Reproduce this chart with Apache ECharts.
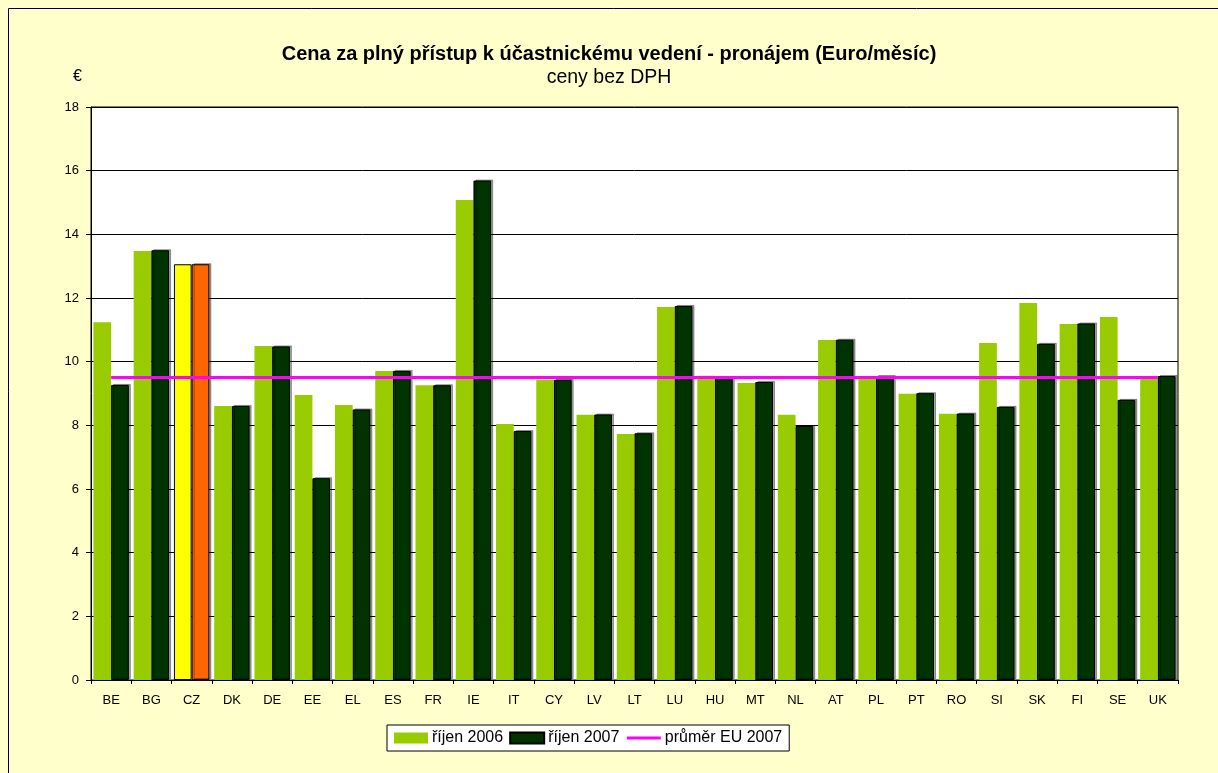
<!DOCTYPE html>
<html>
<head>
<meta charset="utf-8">
<script src="https://cdn.jsdelivr.net/npm/echarts@6/dist/echarts.min.js"></script>
<style>
html,body{margin:0;padding:0;background:#FFFFCC;}
#chart{width:1218px;height:773px;}
</style>
</head>
<body>
<div id="chart"></div>
<script>
const categories = ['BE','BG','CZ','DK','DE','EE','EL','ES','FR','IE','IT','CY','LV','LT','LU','HU','MT','NL','AT','PL','PT','RO','SI','SK','FI','SE','UK'];
const oct2006 = [11.24, 13.48, 13.06, 8.61, 10.49, 8.95, 8.64, 9.71, 9.26, 15.08, 8.04, 9.43, 8.33, 7.73, 11.72, 9.56, 9.33, 8.33, 10.68, 9.55, 8.99, 8.36, 10.59, 11.84, 11.18, 11.40, 9.53];
const oct2007 = [9.27, 13.50, 13.06, 8.61, 10.48, 6.34, 8.50, 9.71, 9.26, 15.69, 7.82, 9.43, 8.34, 7.75, 11.75, 9.52, 9.36, 7.98, 10.69, 9.55, 9.01, 8.37, 8.58, 10.56, 11.20, 8.80, 9.55];
const euAverage2007 = 9.5;
const highlight = 'CZ';
const seriesNames = ['říjen 2006', 'říjen 2007', 'průměr EU 2007'];
const titleText = 'Cena za plný přístup k účastnickému vedení - pronájem (Euro/měsíc)';
const subtitleText = 'ceny bez DPH';
const unitText = '€';

const font = 'Arial, "Liberation Sans", sans-serif';

const d2006 = oct2006.map((v, i) => categories[i] === highlight
  ? { value: v, itemStyle: { color: '#FFFF00', borderColor: '#000', borderWidth: 1 } }
  : v);
const d2007 = oct2007.map((v, i) => categories[i] === highlight
  ? { value: v, itemStyle: { color: '#FF6600', borderColor: '#000', borderWidth: 1 } }
  : v);
const avgLine = categories.map(() => euAverage2007);

const chart = echarts.init(document.getElementById('chart'), null, { renderer: 'canvas' });
chart.setOption({
  backgroundColor: '#FFFFCC',
  animation: false,
  textStyle: { fontFamily: font },
  title: [
    { text: titleText, left: 'center', top: 39,
      textStyle: { fontSize: 20, fontWeight: 'bold', color: '#000', fontFamily: font } },
    { text: subtitleText, left: 'center', top: 63,
      textStyle: { fontSize: 19.5, fontWeight: 'normal', color: '#000', fontFamily: font } },
    { text: unitText, left: 68, top: 64,
      textStyle: { fontSize: 16, fontWeight: 'normal', color: '#000', fontFamily: font } }
  ],
  graphic: [
    { type: 'rect', silent: true, z: 100,
      shape: { x: 8.5, y: 8.5, width: 1400, height: 1000 },
      style: { fill: 'none', stroke: '#000', lineWidth: 1 } }
  ],
  legend: {
    left: 387, top: 725,
    data: [
      { name: seriesNames[0], icon: 'rect' },
      { name: seriesNames[1], icon: 'rect' },
      { name: seriesNames[2], itemStyle: { opacity: 0 }, lineStyle: { width: 3 } }
    ],
    backgroundColor: '#fff',
    borderColor: '#000', borderWidth: 1,
    padding: [5, 7, 5, 7],
    itemWidth: 34, itemHeight: 11, itemGap: 6,
    textStyle: { fontSize: 16, color: '#000', fontFamily: font, padding: [0, 0, 0, -1] }
  },
  grid: {
    left: 91, right: 40, top: 107, bottom: 93,
    show: true, backgroundColor: '#fff', borderColor: '#000', borderWidth: 1,
    containLabel: false
  },
  xAxis: {
    type: 'category',
    data: categories,
    axisLine: { lineStyle: { color: '#000', width: 1 } },
    axisTick: { show: true, inside: false, length: 4, lineStyle: { color: '#000' } },
    axisLabel: { color: '#000', fontSize: 13, margin: 14, fontFamily: font, interval: 0 }
  },
  yAxis: {
    type: 'value',
    min: 0, max: 18, interval: 2,
    axisLine: { show: true, lineStyle: { color: '#000', width: 1 } },
    axisTick: { show: true, length: 5, lineStyle: { color: '#000' } },
    axisLabel: { color: '#000', fontSize: 13, margin: 12, fontFamily: font },
    splitLine: { show: true, lineStyle: { color: '#000', width: 1 } }
  },
  series: [
    { name: seriesNames[0], type: 'bar', data: d2006,
      barGap: '0%', barCategoryGap: '12%',
      itemStyle: { color: '#99CC00' } },
    { name: seriesNames[1], type: 'bar', data: d2007,
      barGap: '0%', barCategoryGap: '12%',
      itemStyle: { color: '#003300', borderColor: '#000', borderWidth: 1,
        shadowColor: 'rgba(0,0,0,0.35)', shadowOffsetX: 2, shadowOffsetY: -1, shadowBlur: 0 } },
    { name: seriesNames[2], type: 'line', data: avgLine,
      symbol: 'none', z: 5,
      lineStyle: { color: '#FF00FF', width: 3 },
      itemStyle: { color: '#FF00FF' } }
  ]
});
</script>
</body>
</html>
